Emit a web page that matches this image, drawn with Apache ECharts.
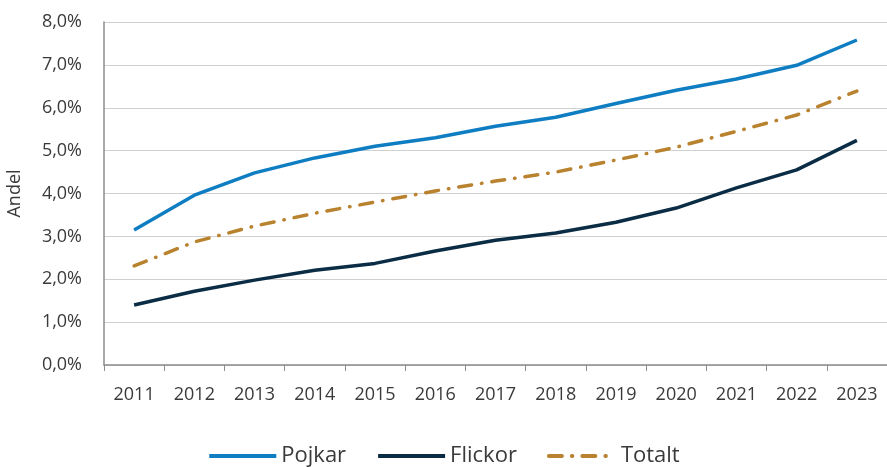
<!DOCTYPE html>
<html>
<head>
<meta charset="utf-8">
<script src="https://cdn.jsdelivr.net/npm/echarts@6/dist/echarts.min.js"></script>
<style>
  html, body { margin: 0; padding: 0; background: #fff; }
  #chart { width: 887px; height: 467px; }
</style>
</head>
<body>
<div id="chart"></div>
<script>
// År och andelar (procent)
var years = ['2011','2012','2013','2014','2015','2016','2017','2018','2019','2020','2021','2022','2023'];
var pojkar  = [3.15, 3.96, 4.48, 4.83, 5.10, 5.30, 5.57, 5.78, 6.10, 6.41, 6.67, 6.99, 7.58];
var flickor = [1.40, 1.72, 1.98, 2.21, 2.37, 2.66, 2.91, 3.08, 3.33, 3.66, 4.13, 4.55, 5.24];
var totalt  = [2.31, 2.87, 3.24, 3.54, 3.80, 4.06, 4.29, 4.50, 4.78, 5.08, 5.45, 5.83, 6.39];

var font = '"Open Sans", "Noto Sans", sans-serif';
var textColor = '#3a3a3a';

var chart = echarts.init(document.getElementById('chart'));
var option = {
    animation: false,
    textStyle: { fontFamily: font },
    grid: { left: 104, right: 0, top: 22, bottom: 102, containLabel: false, outerBoundsMode: 'none' },
    legend: {
        bottom: -5,
        left: 'center',
        itemWidth: 67,
        itemHeight: 10,
        itemGap: 30,
        itemStyle: { opacity: 0 },
        lineStyle: { width: 4 },
        textStyle: { fontSize: 22, color: textColor, fontFamily: font },
        data: ['Pojkar', 'Flickor', 'Totalt']
    },
    xAxis: {
        type: 'category',
        data: years,
        axisLine: { lineStyle: { color: '#8c8c8c', width: 1.5 } },
        axisTick: { show: true, length: 6, lineStyle: { color: '#8c8c8c' } },
        axisLabel: { fontSize: 18, color: textColor, margin: 21 }
    },
    yAxis: {
        type: 'value',
        min: 0, max: 8, interval: 1,
        name: 'Andel',
        nameLocation: 'middle',
        nameGap: 80,
        nameTextStyle: { fontSize: 18, color: textColor },
        axisLine: { show: true, lineStyle: { color: '#8c8c8c', width: 1.5 } },
        axisTick: { show: false },
        splitLine: { lineStyle: { color: '#d0d0d0', width: 1.2 } },
        axisLabel: {
            fontSize: 18, color: textColor, margin: 22,
            formatter: function (v) { return v.toFixed(1).replace('.', ',') + '%'; }
        }
    },
    series: [
        { name: 'Pojkar', type: 'line', data: pojkar, symbol: 'none',
          lineStyle: { color: '#0f7dc2', width: 3.5 }, itemStyle: { color: '#0f7dc2' } },
        { name: 'Flickor', type: 'line', data: flickor, symbol: 'none',
          lineStyle: { color: '#0b2c45', width: 3.5 }, itemStyle: { color: '#0b2c45' } },
        { name: 'Totalt', type: 'line', data: totalt, symbol: 'none',
          lineStyle: { color: '#b8822e', width: 3.5, type: [13, 10, 0.5, 10], cap: 'round' },
          itemStyle: { color: '#b8822e' } }
    ]
};
chart.setOption(option);
</script>
</body>
</html>
